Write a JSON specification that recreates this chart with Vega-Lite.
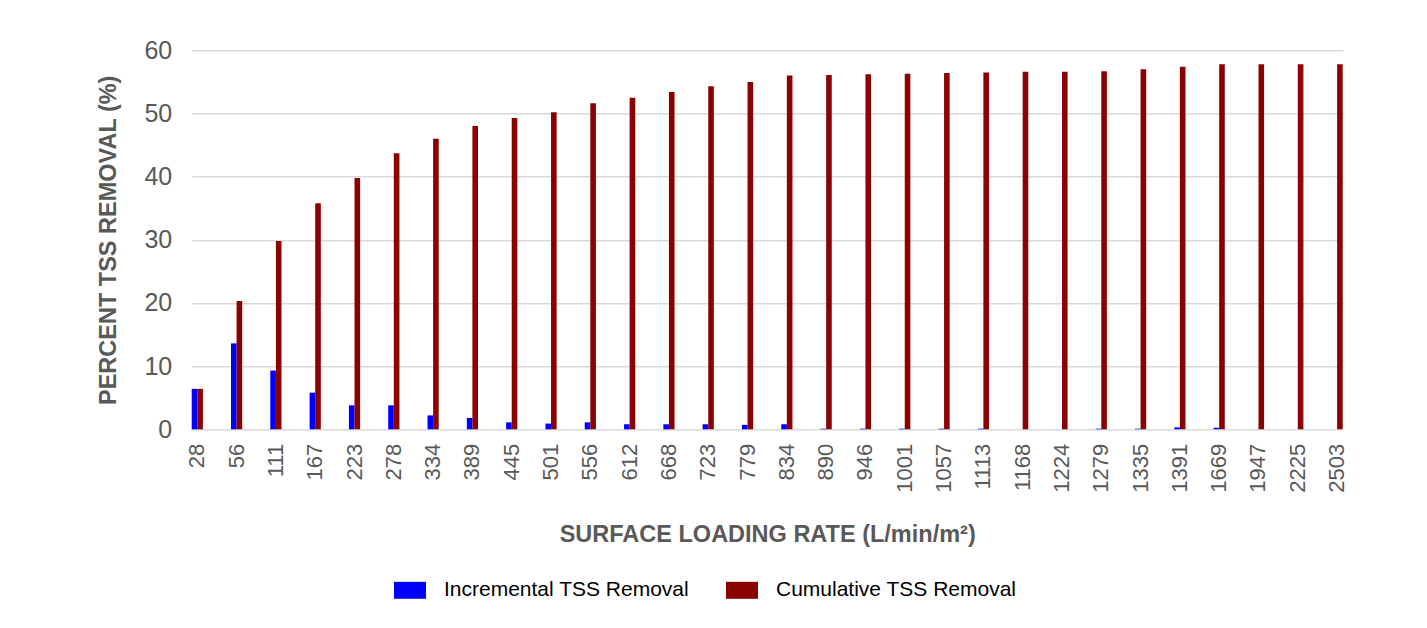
{
  "$schema": "https://vega.github.io/schema/vega-lite/v6.json",
  "width": 1151,
  "height": 379,
  "autosize": {"type": "none"},
  "padding": {"left": 191.7, "top": 50.3, "right": 84.3, "bottom": 198.7},
  "background": "white",
  "config": {
    "font": "Liberation Sans",
    "view": {"stroke": null},
    "axis": {"labelFont": "Liberation Sans", "titleFont": "Liberation Sans"},
    "legend": {"labelFont": "Liberation Sans"}
  },
  "data": {
    "values": [
      {"rate": "28", "series": "Incremental TSS Removal", "value": 6.4},
      {"rate": "28", "series": "Cumulative TSS Removal", "value": 6.4},
      {"rate": "56", "series": "Incremental TSS Removal", "value": 13.6},
      {"rate": "56", "series": "Cumulative TSS Removal", "value": 20.3},
      {"rate": "111", "series": "Incremental TSS Removal", "value": 9.3},
      {"rate": "111", "series": "Cumulative TSS Removal", "value": 29.8},
      {"rate": "167", "series": "Incremental TSS Removal", "value": 5.8},
      {"rate": "167", "series": "Cumulative TSS Removal", "value": 35.8},
      {"rate": "223", "series": "Incremental TSS Removal", "value": 3.8},
      {"rate": "223", "series": "Cumulative TSS Removal", "value": 39.8},
      {"rate": "278", "series": "Incremental TSS Removal", "value": 3.8},
      {"rate": "278", "series": "Cumulative TSS Removal", "value": 43.7},
      {"rate": "334", "series": "Incremental TSS Removal", "value": 2.2},
      {"rate": "334", "series": "Cumulative TSS Removal", "value": 46.0},
      {"rate": "389", "series": "Incremental TSS Removal", "value": 1.8},
      {"rate": "389", "series": "Cumulative TSS Removal", "value": 48.0},
      {"rate": "445", "series": "Incremental TSS Removal", "value": 1.1},
      {"rate": "445", "series": "Cumulative TSS Removal", "value": 49.3},
      {"rate": "501", "series": "Incremental TSS Removal", "value": 0.9},
      {"rate": "501", "series": "Cumulative TSS Removal", "value": 50.2},
      {"rate": "556", "series": "Incremental TSS Removal", "value": 1.1},
      {"rate": "556", "series": "Cumulative TSS Removal", "value": 51.6},
      {"rate": "612", "series": "Incremental TSS Removal", "value": 0.8},
      {"rate": "612", "series": "Cumulative TSS Removal", "value": 52.5},
      {"rate": "668", "series": "Incremental TSS Removal", "value": 0.8},
      {"rate": "668", "series": "Cumulative TSS Removal", "value": 53.4},
      {"rate": "723", "series": "Incremental TSS Removal", "value": 0.8},
      {"rate": "723", "series": "Cumulative TSS Removal", "value": 54.3},
      {"rate": "779", "series": "Incremental TSS Removal", "value": 0.7},
      {"rate": "779", "series": "Cumulative TSS Removal", "value": 55.0},
      {"rate": "834", "series": "Incremental TSS Removal", "value": 0.8},
      {"rate": "834", "series": "Cumulative TSS Removal", "value": 56.0},
      {"rate": "890", "series": "Incremental TSS Removal", "value": 0.1},
      {"rate": "890", "series": "Cumulative TSS Removal", "value": 56.1},
      {"rate": "946", "series": "Incremental TSS Removal", "value": 0.1},
      {"rate": "946", "series": "Cumulative TSS Removal", "value": 56.2},
      {"rate": "1001", "series": "Incremental TSS Removal", "value": 0.1},
      {"rate": "1001", "series": "Cumulative TSS Removal", "value": 56.3},
      {"rate": "1057", "series": "Incremental TSS Removal", "value": 0.1},
      {"rate": "1057", "series": "Cumulative TSS Removal", "value": 56.4},
      {"rate": "1113", "series": "Incremental TSS Removal", "value": 0.1},
      {"rate": "1113", "series": "Cumulative TSS Removal", "value": 56.5},
      {"rate": "1168", "series": "Incremental TSS Removal", "value": 0},
      {"rate": "1168", "series": "Cumulative TSS Removal", "value": 56.6},
      {"rate": "1224", "series": "Incremental TSS Removal", "value": 0},
      {"rate": "1224", "series": "Cumulative TSS Removal", "value": 56.6},
      {"rate": "1279", "series": "Incremental TSS Removal", "value": 0.1},
      {"rate": "1279", "series": "Cumulative TSS Removal", "value": 56.7},
      {"rate": "1335", "series": "Incremental TSS Removal", "value": 0.1},
      {"rate": "1335", "series": "Cumulative TSS Removal", "value": 57.0},
      {"rate": "1391", "series": "Incremental TSS Removal", "value": 0.3},
      {"rate": "1391", "series": "Cumulative TSS Removal", "value": 57.4},
      {"rate": "1669", "series": "Incremental TSS Removal", "value": 0.25},
      {"rate": "1669", "series": "Cumulative TSS Removal", "value": 57.8},
      {"rate": "1947", "series": "Incremental TSS Removal", "value": 0},
      {"rate": "1947", "series": "Cumulative TSS Removal", "value": 57.8},
      {"rate": "2225", "series": "Incremental TSS Removal", "value": 0},
      {"rate": "2225", "series": "Cumulative TSS Removal", "value": 57.8},
      {"rate": "2503", "series": "Incremental TSS Removal", "value": 0},
      {"rate": "2503", "series": "Cumulative TSS Removal", "value": 57.8}
    ]
  },
  "mark": {"type": "bar"},
  "encoding": {
    "x": {
      "field": "rate",
      "type": "ordinal",
      "sort": null,
      "scale": {"paddingInner": 0.715, "paddingOuter": 0},
      "axis": {
        "title": "SURFACE LOADING RATE (L/min/m²)",
        "titleFontSize": 23.5,
        "titleFontWeight": "bold",
        "titleColor": "#595959",
        "titlePadding": 30,
        "labelAngle": -90,
        "labelFontSize": 22,
        "labelColor": "#595959",
        "labelPadding": 14,
        "ticks": false,
        "domain": false
      }
    },
    "xOffset": {
      "field": "series",
      "type": "nominal",
      "sort": ["Incremental TSS Removal", "Cumulative TSS Removal"],
      "scale": {"paddingInner": 0, "paddingOuter": 0}
    },
    "y": {
      "field": "value",
      "type": "quantitative",
      "scale": {"domain": [0, 60], "nice": false},
      "axis": {
        "title": "PERCENT TSS REMOVAL (%)",
        "titleFontSize": 23.5,
        "titleFontWeight": "bold",
        "titleColor": "#595959",
        "titlePadding": 23,
        "values": [0, 10, 20, 30, 40, 50, 60],
        "labelFontSize": 25,
        "labelColor": "#595959",
        "labelPadding": 20,
        "ticks": false,
        "domain": false,
        "grid": true,
        "gridColor": "#d9d9d9",
        "gridWidth": 1.5
      }
    },
    "color": {
      "field": "series",
      "type": "nominal",
      "sort": ["Incremental TSS Removal", "Cumulative TSS Removal"],
      "scale": {"domain": ["Incremental TSS Removal", "Cumulative TSS Removal"], "range": ["#0000ff", "#8b0000"]},
      "legend": {
        "title": null,
        "orient": "none",
        "direction": "horizontal",
        "legendX": 202.3,
        "legendY": 524,
        "symbolType": "M-1,-0.53H1V0.53H-1Z",
        "symbolSize": 1024,
        "symbolStrokeWidth": 0,
        "symbolOpacity": 1,
        "labelFontSize": 21,
        "labelColor": "#000000",
        "labelOffset": 18,
        "labelLimit": 500,
        "columnPadding": 36,
        "padding": 0
      }
    }
  }
}
